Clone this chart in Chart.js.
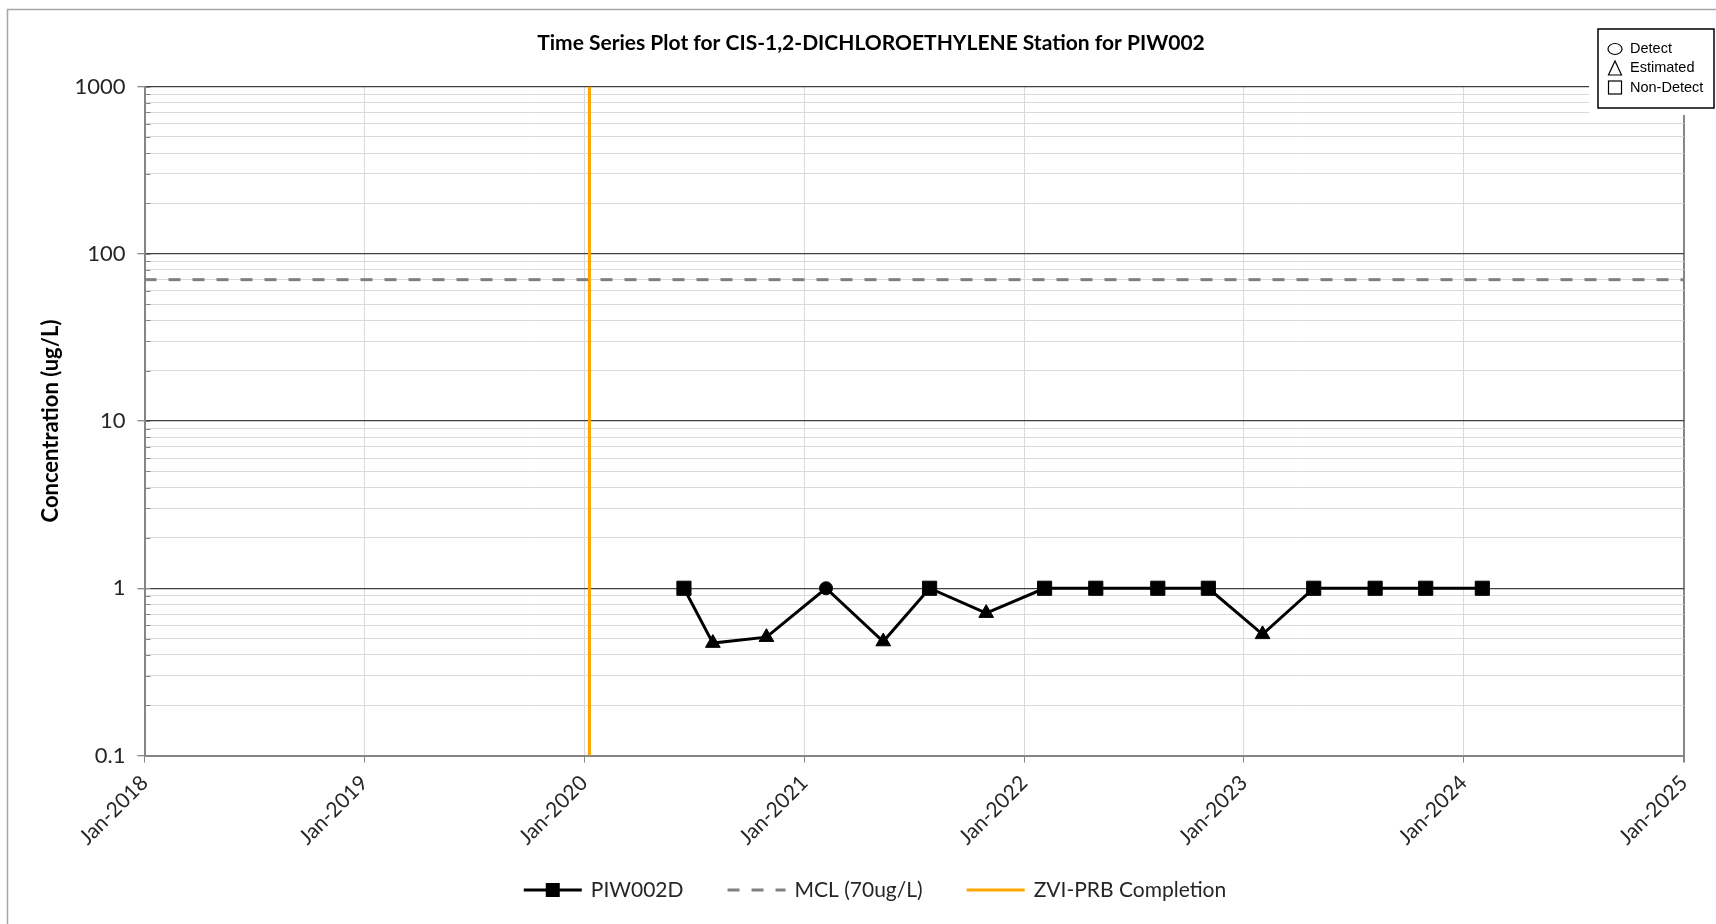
<!DOCTYPE html>
<html>
<head>
<meta charset="utf-8">
<script src="https://cdn.jsdelivr.net/npm/chart.js@4.4.1/dist/chart.umd.min.js"></script>
<style>
  html, body { margin: 0; padding: 0; background: #fff; }
  #wrap { width: 1716px; height: 924px; }
</style>
</head>
<body>
<div id="wrap"><canvas id="ts" width="1716" height="924"></canvas></div>
<script>
// PIW002D sampling results (ug/L)
const sampleDates = [
    "2020-06-15", "2020-08-02", "2020-10-30", "2021-02-06",
    "2021-05-12", "2021-07-28", "2021-10-30", "2022-02-04",
    "2022-04-30", "2022-08-11", "2022-11-03", "2023-02-01",
    "2023-04-27", "2023-08-07", "2023-10-30", "2024-02-01",
];
const concentrations = [1, 0.47, 0.51, 1, 0.48, 1, 0.71, 1, 1, 1, 1, 0.53, 1, 1, 1, 1];
// D = detect, E = estimated, ND = non-detect
const qualifiers = ["ND", "E", "E", "D", "E", "ND", "E", "ND", "ND", "ND", "ND", "E", "ND", "ND", "ND", "ND"];

const mclValue = 70;
const zviDate = "2020-01-10";

// axis ticks
const yearTicks = [2018, 2019, 2020, 2021, 2022, 2023, 2024, 2025];
const decadeTicks = [0.1, 1, 10, 100, 1000];
const decadeLabels = ["0.1", "1", "10", "100", "1000"];
const minorSteps = [2, 3, 4, 5, 6, 7, 8, 9];

const title = "Time Series Plot for CIS-1,2-DICHLOROETHYLENE Station for PIW002";

const markerStyle = { D: "circle", E: "triangle", ND: "rect" };
const markerRadius = { D: 6.5, E: 8.5, ND: 10 };

const toTime = (d) => Date.parse(d + "T00:00:00Z");
const xMin = Date.UTC(yearTicks[0], 0, 1);
const xMax = Date.UTC(yearTicks[yearTicks.length - 1], 0, 1);
const yMin = decadeTicks[0];
const yMax = decadeTicks[decadeTicks.length - 1];

// gridline values for the log axis
const yGrid = [];
decadeTicks.forEach((d, i) => {
    yGrid.push(d);
    if (i < decadeTicks.length - 1) minorSteps.forEach((m) => yGrid.push(+(d * m).toPrecision(3)));
});

const isDecade = (v) => decadeTicks.some((d) => Math.abs(d - v) < 1e-9);
const axisGray = "#868686";
const textColor = "#262626";

const decor = {
    id: "decor",
    beforeDraw(chart) {
        const ctx = chart.ctx;
        ctx.save();
        ctx.fillStyle = "#fff";
        ctx.fillRect(0, 0, chart.width, chart.height);
        ctx.strokeStyle = "#a6a6a6";
        ctx.lineWidth = 1.5;
        ctx.strokeRect(7.5, 9.5, chart.width, chart.height);
        ctx.restore();
    },
    afterDraw(chart) {
        const ctx = chart.ctx;
        const y = chart.scales.y;
        const area = chart.chartArea;
        ctx.save();

        // small inside ticks on the value axis
        ctx.strokeStyle = axisGray;
        ctx.lineWidth = 1;
        yGrid.forEach((v) => {
            const py = Math.round(y.getPixelForValue(v)) + 0.5;
            ctx.beginPath();
            ctx.moveTo(area.left, py);
            ctx.lineTo(area.left + 6, py);
            ctx.stroke();
        });

        // title
        ctx.fillStyle = "#000";
        ctx.font = "bold 21px Lato";
        ctx.textAlign = "center";
        ctx.textBaseline = "middle";
        ctx.fillText(title, 871, 43);

        // marker key box (top right)
        ctx.fillStyle = "#fff";
        ctx.fillRect(1589, 20, chart.width - 1589, 95);
        ctx.strokeStyle = "#000";
        ctx.lineWidth = 1.5;
        ctx.strokeRect(1598, 29, 116, 79);
        ctx.lineWidth = 1.2;
        const kx = 1615;
        ctx.beginPath();
        ctx.ellipse(kx, 49, 7, 5.5, 0, 0, Math.PI * 2);
        ctx.stroke();
        ctx.beginPath();
        ctx.moveTo(kx, 61);
        ctx.lineTo(kx + 6.5, 75);
        ctx.lineTo(kx - 6.5, 75);
        ctx.closePath();
        ctx.stroke();
        ctx.strokeRect(kx - 6.5, 81, 13, 13);
        ctx.fillStyle = "#000";
        ctx.font = "14.5px 'Liberation Sans'";
        ctx.textAlign = "left";
        ctx.fillText("Detect", 1630, 49);
        ctx.fillText("Estimated", 1630, 68);
        ctx.fillText("Non-Detect", 1630, 87.5);

        // bottom legend
        ctx.font = "21px Lato";
        const lineLen = 58, gapText = 9, gapItem = 44, ly = 890;
        const items = chart.data.datasets;
        let total = 0;
        items.forEach((ds, i) => {
            total += lineLen + gapText + ctx.measureText(ds.label).width + (i < items.length - 1 ? gapItem : 0);
        });
        let lx = 875 - total / 2;
        items.forEach((ds) => {
            ctx.save();
            ctx.strokeStyle = ds.borderColor;
            ctx.lineWidth = ds.borderWidth;
            ctx.setLineDash(ds.borderDash || []);
            ctx.beginPath();
            ctx.moveTo(lx, ly);
            ctx.lineTo(lx + lineLen, ly);
            ctx.stroke();
            if (ds.legendMarker) {
                ctx.fillStyle = ds.borderColor;
                ctx.fillRect(lx + lineLen / 2 - 7, ly - 7, 14, 14);
            }
            ctx.restore();
            ctx.fillStyle = textColor;
            ctx.textAlign = "left";
            ctx.textBaseline = "middle";
            ctx.fillText(ds.label, lx + lineLen + gapText, ly);
            lx += lineLen + gapText + ctx.measureText(ds.label).width + gapItem;
        });

        ctx.restore();
    },
};

new Chart(document.getElementById("ts"), {
    type: "line",
    data: {
        datasets: [
            {
                label: "PIW002D",
                data: sampleDates.map((d, i) => ({ x: toTime(d), y: concentrations[i] })),
                borderColor: "#000",
                borderWidth: 3,
                pointStyle: qualifiers.map((q) => markerStyle[q]),
                pointRadius: qualifiers.map((q) => markerRadius[q]),
                pointBackgroundColor: "#000",
                pointBorderColor: "#000",
                pointBorderWidth: 1,
                tension: 0,
                legendMarker: true,
                order: 0,
            },
            {
                label: "MCL (70ug/L)",
                data: [{ x: xMin, y: mclValue }, { x: xMax, y: mclValue }],
                borderColor: "#808080",
                borderWidth: 3,
                borderDash: [12, 12],
                pointRadius: 0,
                order: 2,
            },
            {
                label: "ZVI-PRB Completion",
                data: [{ x: toTime(zviDate), y: yMin }, { x: toTime(zviDate), y: yMax }],
                borderColor: "#FFA500",
                borderWidth: 3,
                pointRadius: 0,
                order: 1,
            },
        ],
    },
    options: {
        responsive: false,
        animation: false,
        events: [],
        layout: { padding: { left: 38, top: 86.5, right: 32, bottom: 0 } },
        plugins: {
            legend: { display: false },
            title: { display: false },
            tooltip: { enabled: false },
        },
        scales: {
            x: {
                type: "linear",
                min: xMin,
                max: xMax,
                afterBuildTicks: (scale) => {
                    scale.ticks = yearTicks.map((yr) => ({ value: Date.UTC(yr, 0, 1) }));
                },
                afterFit: (scale) => {
                    scale.height = 924 - 755.5;
                },
                ticks: {
                    autoSkip: false,
                    maxRotation: 45,
                    minRotation: 45,
                    padding: 8,
                    color: textColor,
                    font: { family: "Lato", size: 21 },
                    callback: (v) => "Jan-" + new Date(v).getUTCFullYear(),
                },
                grid: {
                    color: (c) => (c.tick && c.tick.value === xMax ? axisGray : "#d9d9d9"),
                    lineWidth: (c) => (c.tick && c.tick.value === xMax ? 2 : 1),
                    tickColor: axisGray,
                    tickLength: 7,
                },
                border: { color: axisGray, width: 2 },
            },
            y: {
                type: "logarithmic",
                min: yMin,
                max: yMax,
                afterBuildTicks: (scale) => {
                    scale.ticks = yGrid.map((v) => ({ value: v }));
                },
                afterFit: (scale) => {
                    scale.width = 144.5 - 38;
                },
                ticks: {
                    autoSkip: false,
                    padding: 12,
                    color: textColor,
                    font: { family: "Lato", size: 22 },
                    callback: (v) => {
                        const i = decadeTicks.findIndex((d) => Math.abs(d - v) < 1e-9);
                        return i >= 0 ? decadeLabels[i] : "";
                    },
                },
                grid: {
                    color: (c) => {
                        const v = c.tick ? c.tick.value : 0;
                        if (v === yMin) return axisGray;
                        return isDecade(v) ? "#404040" : "#d9d9d9";
                    },
                    lineWidth: (c) => (c.tick && isDecade(c.tick.value) ? 1.3 : 1),
                    tickColor: (c) => (c.tick && isDecade(c.tick.value) ? axisGray : "rgba(0,0,0,0)"),
                    tickLength: 7,
                },
                border: { color: axisGray, width: 2 },
                title: {
                    display: true,
                    text: "Concentration (ug/L)",
                    color: "#000",
                    font: { family: "Lato", size: 22, weight: "bold" },
                    padding: { top: 0, bottom: 0 },
                },
            },
        },
    },
    plugins: [decor],
});
</script>
</body>
</html>
